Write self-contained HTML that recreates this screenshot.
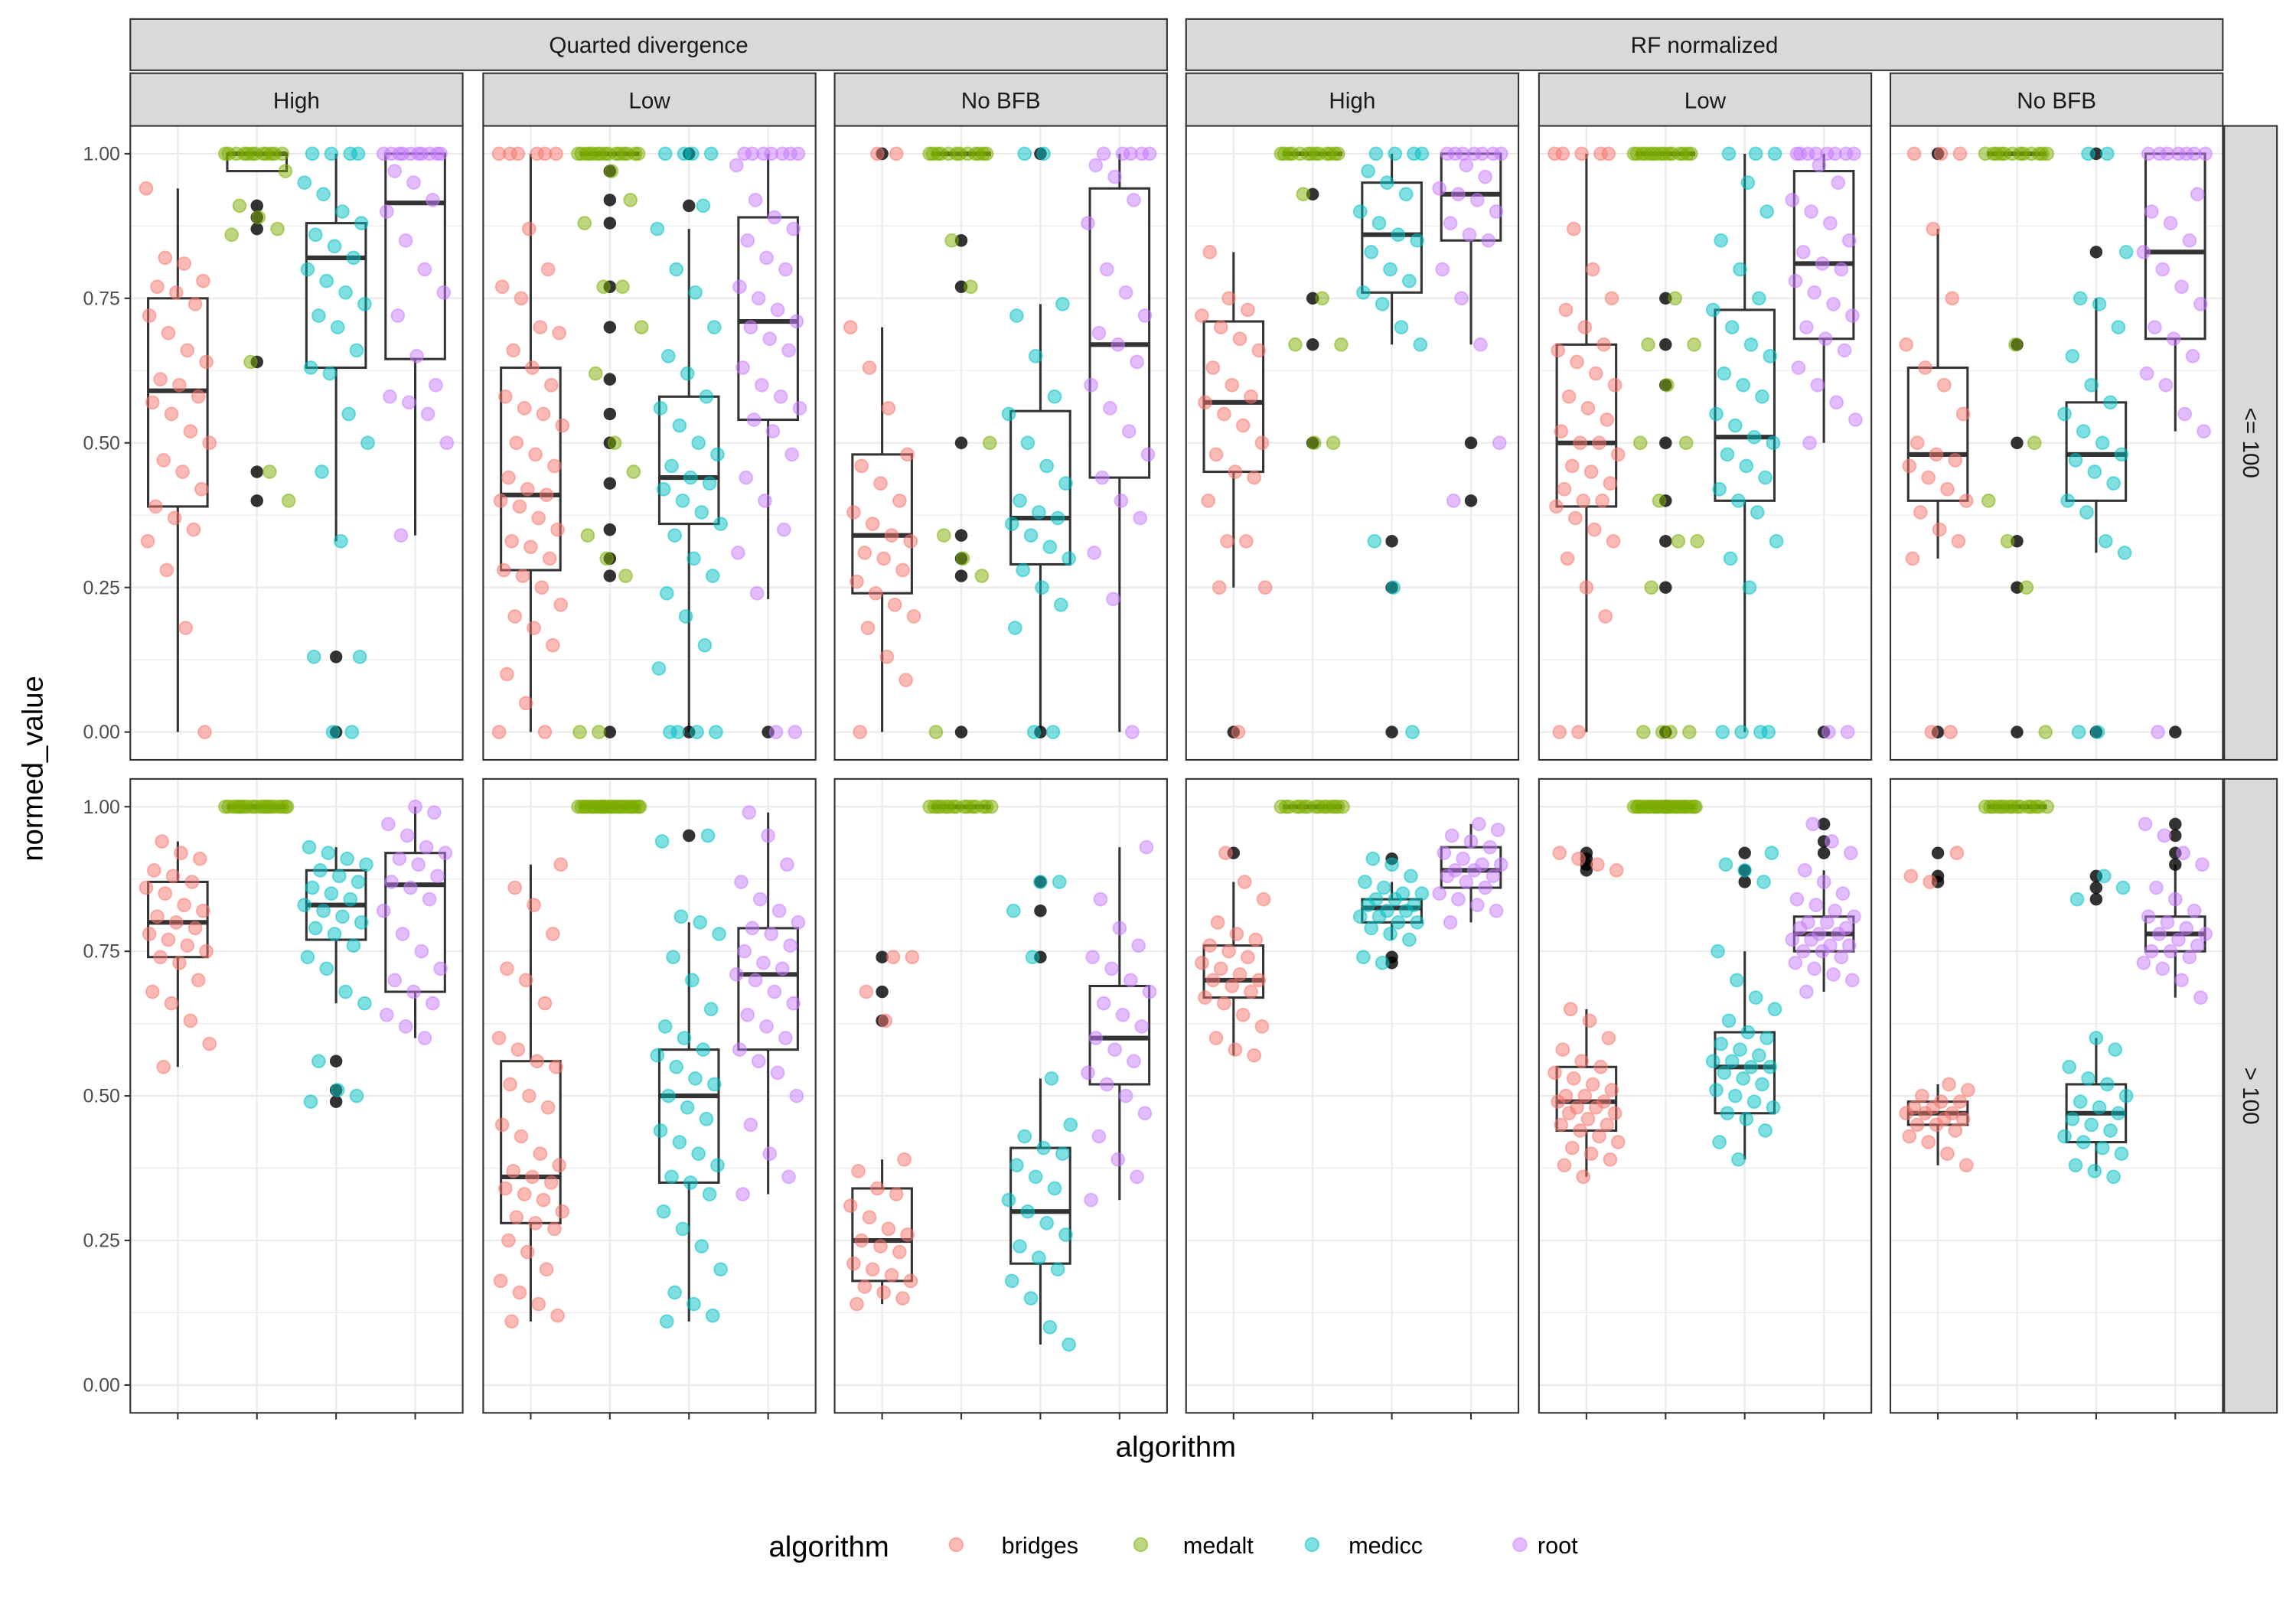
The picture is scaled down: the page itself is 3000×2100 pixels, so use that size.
<!DOCTYPE html>
<html><head><meta charset="utf-8"><style>
html,body{margin:0;padding:0;background:#fff;}
svg{display:block;font-family:"Liberation Sans",Arial,sans-serif;}
</style></head><body>
<svg id="chart" xmlns="http://www.w3.org/2000/svg" width="3000" height="2100" viewBox="0 0 1568 1097.6">
<rect x="0" y="0" width="1568" height="1097.6" fill="#fff"/>
<g id="panels"></g>
<text x="803" y="995" font-size="20" text-anchor="middle" fill="#000">algorithm</text>
<text transform="translate(29,525) rotate(-90)" font-size="20" text-anchor="middle" fill="#000">normed_value</text>
<g>
<text x="525" y="1063" font-size="20" fill="#000">algorithm</text>
<g><circle cx="653" cy="1055" r="4.6" fill="#F8766D" fill-opacity="0.5" stroke="#F8766D" stroke-opacity="0.5" stroke-width="1"/><text x="684" y="1061" font-size="16" fill="#000">bridges</text></g>
<g><circle cx="779" cy="1055" r="4.6" fill="#7CAE00" fill-opacity="0.5" stroke="#7CAE00" stroke-opacity="0.5" stroke-width="1"/><text x="808" y="1061" font-size="16" fill="#000">medalt</text></g>
<g><circle cx="896" cy="1055" r="4.6" fill="#00BFC4" fill-opacity="0.5" stroke="#00BFC4" stroke-opacity="0.5" stroke-width="1"/><text x="921" y="1061" font-size="16" fill="#000">medicc</text></g>
<g><circle cx="1038" cy="1055" r="4.6" fill="#C77CFF" fill-opacity="0.5" stroke="#C77CFF" stroke-opacity="0.5" stroke-width="1"/><text x="1050" y="1061" font-size="16" fill="#000">root</text></g>
</g>
</svg>
<script>
const algorithms = ["bridges","medalt","medicc","root"];
const colors = ["#F8766D","#7CAE00","#00BFC4","#C77CFF"];
const metrics = ["Quarted divergence","RF normalized"];
const bfbLevels = ["High","Low","No BFB"];
const sizeGroups = ["<= 100","> 100"];
const yTicks = [0,0.25,0.5,0.75,1];
const yTickLabels = ["0.00","0.25","0.50","0.75","1.00"];
// box stats [lo, q1, median, q3, hi] per panel (row-major: row1 6 panels, row2 6 panels), per algorithm
const boxStats = [
 [[0,.39,.59,.75,.94],[.97,.97,1,1,1],[.33,.63,.82,.88,1],[.34,.645,.915,1,1]],
 [[0,.28,.41,.63,1],[1,1,1,1,1],[0,.36,.44,.58,.87],[.23,.54,.71,.89,1]],
 [[0,.24,.34,.48,.70],[1,1,1,1,1],[0,.29,.37,.555,.74],[0,.44,.67,.94,1]],
 [[.25,.45,.57,.71,.83],[1,1,1,1,1],[.67,.76,.86,.95,1],[.67,.85,.93,1,1]],
 [[0,.39,.5,.67,1],[1,1,1,1,1],[0,.40,.51,.73,1],[.5,.68,.81,.97,1]],
 [[.3,.40,.48,.63,.87],[1,1,1,1,1],[.31,.40,.48,.57,.75],[.52,.68,.83,1,1]],
 [[.55,.74,.8,.87,.94],[1,1,1,1,1],[.66,.77,.83,.89,.93],[.60,.68,.865,.92,1]],
 [[.11,.28,.36,.56,.9],[1,1,1,1,1],[.11,.35,.5,.58,.8],[.33,.58,.71,.79,.99]],
 [[.14,.18,.25,.34,.39],[1,1,1,1,1],[.07,.21,.30,.41,.53],[.32,.52,.60,.69,.93]],
 [[.57,.67,.70,.76,.87],[1,1,1,1,1],[.77,.80,.825,.84,.87],[.8,.86,.89,.93,.97]],
 [[.36,.44,.49,.55,.65],[1,1,1,1,1],[.39,.47,.55,.61,.75],[.68,.75,.78,.81,.89]],
 [[.38,.45,.47,.49,.52],[1,1,1,1,1],[.37,.42,.47,.52,.60],[.67,.75,.78,.81,.90]]
];
const outliers = [
 [[],[.91,.89,.87,.64,.45,.4],[.13,0],[]],
 [[],[.97,.92,.88,.77,.7,.61,.55,.5,.43,.35,.3,.27,0],[1,.91,0],[0]],
 [[1],[.85,.77,.5,.34,.3,.27,0],[1,0],[]],
 [[0],[.93,.75,.67,.5],[.33,.25,0],[.5,.4]],
 [[],[.75,.67,.6,.5,.4,.33,.25,0],[],[0]],
 [[1,0],[.67,.5,.33,.25,0],[1,.83,0],[0]],
 [[],[],[.56,.51,.49],[]],
 [[],[],[.95],[]],
 [[.74,.68,.63],[],[.87,.82,.74],[]],
 [[.92],[],[.91,.74,.73],[]],
 [[.92,.91,.9,.89],[],[.92,.89,.87],[.97,.94,.92]],
 [[.92,.88,.87],[],[.88,.86,.84],[.97,.95,.92,.9]]
];
const ones15 = [1,1,1,1,1,1,1,1,1,1,1,1,1,1,1];
const points = [
 [[.94,.82,.81,.78,.77,.76,.74,.72,.69,.66,.64,.61,.6,.58,.57,.55,.52,.5,.47,.45,.42,.39,.37,.35,.33,.28,.18,0],
  [1,1,1,1,1,1,1,1,1,1,1,1,.97,.91,.89,.87,.86,.64,.45,.4],
  [1,1,1,1,.95,.93,.9,.88,.86,.84,.82,.8,.78,.76,.74,.72,.7,.66,.63,.62,.55,.5,.45,.33,.13,.13,0,0],
  [1,1,1,1,1,1,1,1,1,1,.97,.95,.92,.9,.85,.8,.76,.72,.65,.6,.58,.57,.55,.5,.34]],
 [[1,1,1,1,1,1,.87,.8,.77,.75,.7,.69,.66,.63,.6,.58,.56,.55,.53,.5,.48,.46,.44,.42,.41,.4,.39,.37,.35,.33,.32,.3,.28,.27,.25,.22,.2,.18,.15,.1,.05,0,0],
  [1,1,1,1,1,1,1,1,1,1,1,1,1,1,1,.97,.92,.88,.77,.77,.7,.62,.5,.45,.34,.3,.27,0,0],
  [1,1,1,1,.91,.87,.8,.76,.7,.65,.62,.58,.56,.53,.5,.48,.46,.44,.43,.42,.4,.38,.36,.34,.3,.27,.24,.2,.15,.11,0,0,0,0],
  [1,1,1,1,1,1,1,.98,.92,.89,.87,.85,.82,.8,.77,.75,.73,.71,.7,.68,.66,.63,.6,.58,.56,.54,.52,.48,.44,.4,.35,.31,.24,0,0]],
 [[1,1,.7,.63,.56,.48,.46,.43,.4,.38,.36,.34,.33,.31,.3,.28,.26,.24,.22,.2,.18,.13,.09,0],
  [1,1,1,1,1,1,1,1,1,1,1,1,.85,.77,.5,.34,.3,.27,0],
  [1,1,.74,.72,.65,.58,.55,.5,.46,.43,.4,.38,.37,.36,.34,.32,.3,.28,.25,.22,.18,0,0],
  [1,1,1,1,1,.98,.96,.92,.88,.8,.76,.72,.69,.67,.64,.6,.56,.52,.48,.44,.4,.37,.31,.23,0]],
 [[.83,.75,.73,.72,.7,.68,.66,.63,.6,.58,.57,.55,.53,.5,.48,.45,.44,.4,.33,.33,.25,.25,0],
  [1,1,1,1,1,1,1,1,1,1,1,1,1,.93,.75,.67,.67,.5,.5],
  [1,1,1,1,.97,.95,.93,.9,.88,.86,.85,.83,.8,.78,.76,.74,.7,.67,.33,.25,0],
  [1,1,1,1,1,1,1,.98,.96,.94,.93,.92,.9,.88,.86,.85,.8,.75,.67,.5,.4]],
 [[1,1,1,1,1,.87,.8,.75,.73,.7,.67,.66,.64,.62,.6,.58,.56,.54,.52,.5,.5,.48,.46,.45,.43,.42,.4,.4,.39,.37,.35,.33,.3,.25,.2,0,0],
  [1,1,1,1,1,1,1,1,1,1,1,1,1,1,1,.75,.67,.67,.6,.5,.5,.4,.33,.33,.25,0,0,0,0],
  [1,1,1,.95,.9,.85,.8,.75,.73,.7,.67,.65,.62,.6,.58,.55,.53,.51,.5,.48,.46,.44,.42,.4,.38,.33,.3,.25,0,0,0,0],
  [1,1,1,1,1,1,1,1,.98,.95,.92,.9,.88,.85,.83,.81,.8,.78,.76,.74,.72,.7,.68,.66,.63,.6,.57,.54,.5,0,0]],
 [[1,1,1,.87,.75,.67,.63,.6,.55,.5,.48,.47,.46,.44,.42,.4,.38,.35,.33,.3,0,0],
  [1,1,1,1,1,1,1,1,1,1,1,1,.67,.5,.4,.33,.25,0],
  [1,1,.83,.75,.74,.7,.65,.6,.57,.55,.52,.5,.48,.47,.45,.43,.4,.38,.33,.31,0,0],
  [1,1,1,1,1,1,1,.93,.9,.88,.85,.83,.8,.77,.74,.7,.68,.65,.62,.6,.55,.52,0]],
 [[.94,.92,.91,.89,.88,.87,.86,.85,.83,.82,.81,.8,.79,.78,.77,.76,.75,.74,.73,.7,.68,.66,.63,.59,.55],
  ones15.concat([1,1,1,1,1]),
  [.93,.92,.91,.9,.89,.88,.87,.86,.85,.84,.83,.82,.81,.8,.79,.78,.76,.74,.72,.68,.66,.56,.51,.5,.49],
  [1,.99,.97,.95,.93,.92,.91,.9,.88,.87,.86,.84,.82,.78,.75,.72,.7,.68,.66,.64,.62,.6]],
 [[.9,.86,.83,.78,.72,.7,.66,.6,.58,.56,.55,.52,.5,.48,.45,.43,.4,.38,.37,.36,.35,.34,.33,.32,.3,.29,.28,.27,.25,.23,.2,.18,.16,.14,.12,.11],
  ones15.concat([1,1,1,1,1,1,1,1,1,1]),
  [.95,.94,.81,.8,.78,.74,.7,.65,.62,.6,.58,.57,.55,.53,.52,.5,.48,.46,.44,.42,.4,.38,.36,.35,.33,.3,.27,.24,.2,.16,.14,.12,.11],
  [.99,.95,.9,.87,.84,.82,.8,.79,.78,.76,.75,.73,.72,.71,.7,.68,.66,.64,.62,.6,.58,.56,.54,.5,.45,.4,.36,.33]],
 [[.74,.74,.68,.63,.39,.37,.34,.33,.31,.29,.27,.26,.25,.24,.23,.21,.2,.19,.18,.17,.16,.15,.14],
  ones15,
  [.87,.87,.82,.74,.53,.45,.43,.41,.4,.38,.36,.34,.32,.3,.28,.26,.24,.22,.2,.18,.15,.1,.07],
  [.93,.84,.79,.76,.74,.72,.7,.68,.66,.64,.62,.6,.58,.56,.54,.52,.5,.47,.43,.39,.36,.32]],
 [[.92,.87,.84,.8,.78,.77,.76,.75,.74,.73,.72,.71,.7,.7,.69,.68,.67,.66,.64,.62,.6,.58,.57],
  ones15,
  [.91,.9,.88,.87,.86,.85,.85,.84,.84,.83,.83,.82,.82,.81,.81,.8,.8,.79,.78,.77,.74,.73],
  [.97,.96,.95,.94,.93,.92,.91,.9,.9,.89,.89,.88,.88,.87,.86,.85,.84,.83,.82,.8]],
 [[.92,.91,.9,.89,.65,.63,.6,.58,.56,.55,.54,.53,.52,.51,.5,.5,.49,.49,.48,.48,.47,.47,.46,.45,.45,.44,.43,.42,.41,.4,.39,.38,.36],
  ones15.concat([1,1,1,1,1,1,1,1,1,1]),
  [.92,.9,.89,.87,.75,.7,.67,.65,.63,.61,.6,.59,.58,.57,.56,.56,.55,.55,.54,.53,.52,.51,.5,.49,.48,.47,.46,.44,.42,.39],
  [.97,.94,.92,.89,.87,.85,.84,.83,.82,.81,.8,.8,.79,.79,.78,.78,.77,.77,.76,.76,.75,.75,.74,.73,.72,.71,.7,.68]],
 [[.92,.88,.87,.52,.51,.5,.49,.49,.48,.48,.47,.47,.47,.46,.46,.45,.45,.44,.43,.42,.4,.38],
  ones15,
  [.88,.86,.84,.6,.58,.55,.53,.52,.5,.49,.48,.47,.46,.45,.44,.43,.42,.41,.4,.38,.37,.36],
  [.97,.95,.92,.9,.86,.84,.82,.81,.8,.79,.78,.78,.77,.76,.75,.75,.74,.73,.72,.7,.67]]
];

const NS="http://www.w3.org/2000/svg";
const root=document.getElementById('panels');
const colX=[89,330,570,810,1051,1291], PW=227, rowY=[86,532], PH=433;
function mk(tag,attrs,parent){const e=document.createElementNS(NS,tag);for(const k in attrs)e.setAttribute(k,attrs[k]);(parent||root).appendChild(e);return e;}
function yScale(r,v){return rowY[r]+19+(1-v)*395;}
function xScale(c,k){return colX[c]+(0.6+k)*(PW/4.2);}
const unit=PW/4.2;

// top strips
metrics.forEach((m,i)=>{
  const x0=colX[i*3], x1=colX[i*3+2]+PW;
  const g=mk('g',{});
  
  
  mk('rect',{x:x0,y:13,width:x1-x0,height:35,fill:'#D9D9D9',stroke:'#333',"stroke-width":1.1},g);
  const t=mk('text',{x:(x0+x1)/2,y:36,"font-size":15.5,"text-anchor":"middle",fill:'#1A1A1A'},g);t.textContent=m;
});
for(let c=0;c<6;c++){
  const g=mk('g',{});
  
  
  mk('rect',{x:colX[c],y:50,width:PW,height:36,fill:'#D9D9D9',stroke:'#333',"stroke-width":1.1},g);
  const t=mk('text',{x:colX[c]+PW/2,y:74,"font-size":15.5,"text-anchor":"middle",fill:'#1A1A1A'},g);t.textContent=bfbLevels[c%3];
}
sizeGroups.forEach((s,r)=>{
  const g=mk('g',{});
  
  
  mk('rect',{x:1519,y:rowY[r],width:36,height:PH,fill:'#D9D9D9',stroke:'#333',"stroke-width":1.1},g);
  const t=mk('text',{transform:`translate(1532,${rowY[r]+PH/2}) rotate(90)`,"font-size":15.5,"text-anchor":"middle",fill:'#1A1A1A'},g);t.textContent=s;
});

for(let r=0;r<2;r++){
  // y axis labels
  yTicks.forEach((v,i)=>{
    const y=yScale(r,v);
    const t=mk('text',{x:82,y:y+4.5,"font-size":13,"text-anchor":"end",fill:'#4D4D4D'});
    
    
    t.textContent=yTickLabels[i];
    mk('line',{x1:85,x2:89,y1:y,y2:y,stroke:'#333',"stroke-width":1.1});
  });
  for(let c=0;c<6;c++){
    const p=r*6+c;
    const g=mk('g',{});
    
    
    mk('rect',{x:colX[c],y:rowY[r],width:PW,height:PH,fill:'#fff'},g);
    for(let i=0;i<yTicks.length-1;i++){const y=yScale(r,(yTicks[i]+yTicks[i+1])/2);mk('line',{x1:colX[c],x2:colX[c]+PW,y1:y,y2:y,stroke:'#EBEBEB',"stroke-width":0.6},g);}
    yTicks.forEach(v=>{const y=yScale(r,v);mk('line',{x1:colX[c],x2:colX[c]+PW,y1:y,y2:y,stroke:'#EBEBEB',"stroke-width":1.2},g);});
    algorithms.forEach((a,k)=>{const x=xScale(c,k);mk('line',{x1:x,x2:x,y1:rowY[r],y2:rowY[r]+PH,stroke:'#EBEBEB',"stroke-width":1.2},g);});
    algorithms.forEach((a,k)=>{
      const x=xScale(c,k), st=boxStats[p][k];
      const bg=mk('g',{},g);
      
      
      const hw=0.375*unit;
      mk('line',{x1:x,x2:x,y1:yScale(r,st[0]),y2:yScale(r,st[1]),stroke:'#333',"stroke-width":1.6},bg);
      mk('line',{x1:x,x2:x,y1:yScale(r,st[3]),y2:yScale(r,st[4]),stroke:'#333',"stroke-width":1.6},bg);
      mk('rect',{x:x-hw,y:yScale(r,st[3]),width:2*hw,height:Math.max(0,yScale(r,st[1])-yScale(r,st[3])),fill:'#fff',stroke:'#333',"stroke-width":1.6},bg);
      mk('line',{x1:x-hw,x2:x+hw,y1:yScale(r,st[2]),y2:yScale(r,st[2]),stroke:'#333',"stroke-width":3.2},bg);
      outliers[p][k].forEach(v=>{
        const o=mk('circle',{cx:x,cy:yScale(r,v),r:4.3,fill:'#000',"fill-opacity":0.8},bg);
        
        
      });
    });
    algorithms.forEach((a,k)=>{
      const x=xScale(c,k);
      points[p][k].forEach((v,i)=>{
        const j=(((i*53+k*17+p*29)%41)/40-0.5)*0.8*unit;
        const pt=mk('circle',{cx:x+j,cy:yScale(r,v),r:4.4,fill:colors[k],"fill-opacity":0.5,stroke:colors[k],"stroke-opacity":0.5,"stroke-width":1},g);
        
        
      });
    });
    mk('rect',{x:colX[c],y:rowY[r],width:PW,height:PH,fill:'none',stroke:'#333',"stroke-width":1.1},g);
    if(r===1){algorithms.forEach((a,k)=>{const x=xScale(c,k);mk('line',{x1:x,x2:x,y1:rowY[1]+PH,y2:rowY[1]+PH+4.5,stroke:'#333',"stroke-width":1.1},g);});}
  }
}
</script>
</body></html>
